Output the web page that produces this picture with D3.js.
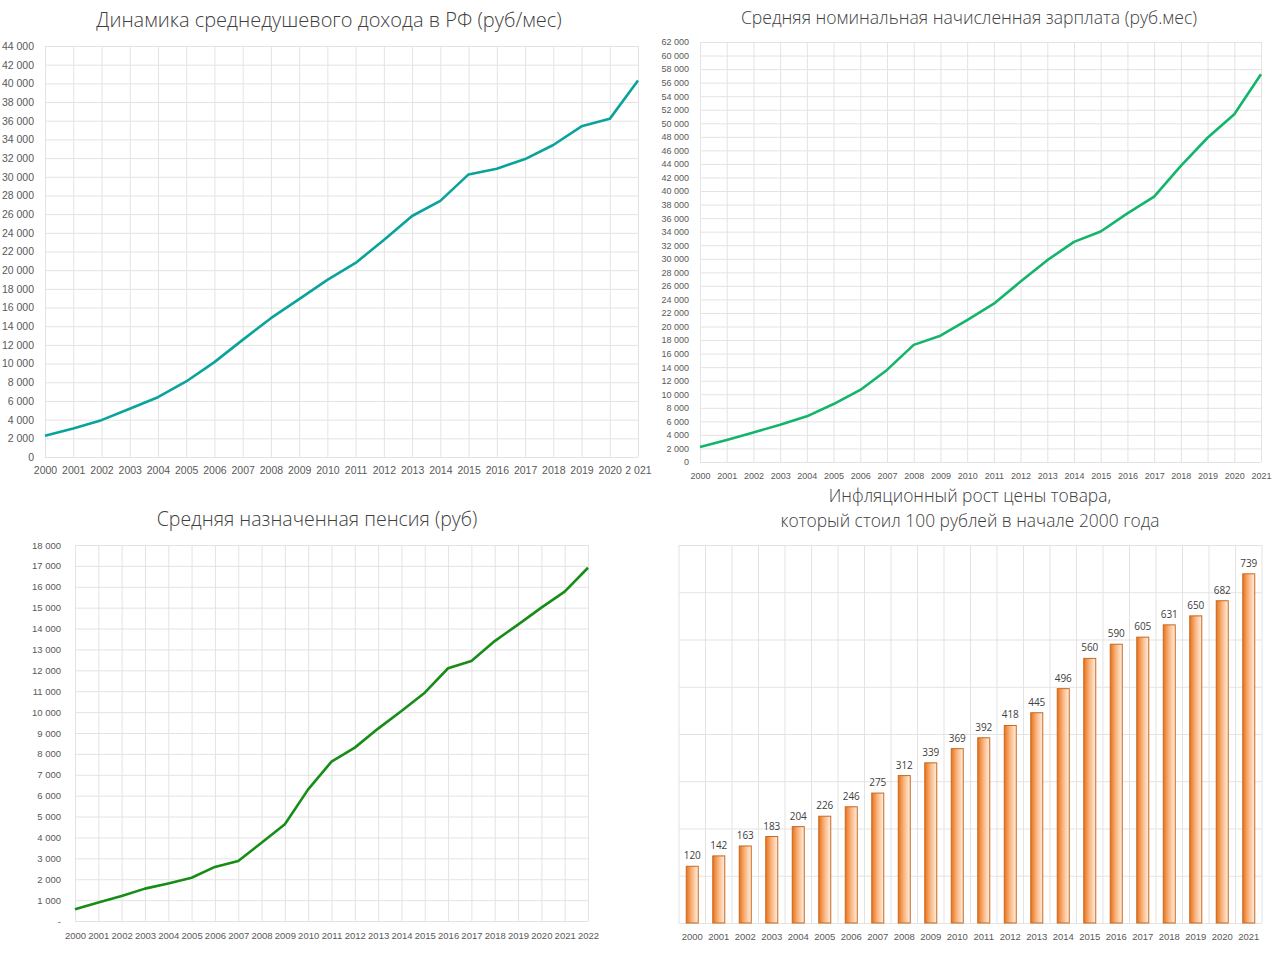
<!DOCTYPE html>
<html lang="ru">
<head>
<meta charset="UTF-8">
<title>Доходы, зарплаты, пенсии и инфляция</title>
<style>
    body, html { margin: 0; padding: 0; background: #fff; }
    svg { display: block; font-family: "Open Sans", "Noto Sans", sans-serif; }
    .title { fill: #404040; font-weight: 300; text-anchor: middle; }
    .tick text { fill: #595959; }
    .grid line { stroke: #e3e3e3; stroke-width: 1; }
    .domain { display: none; }
    .vlabel { fill: #404040; font-size: 10px; text-anchor: middle; }
</style>
</head>
<body>
<script src="https://d3js.org/d3.v7.min.js"></script>
<script>
// Years
const years21 = d3.range(2000, 2022);
const years22 = d3.range(2000, 2023);
const incomeLabels = years21.map(y => y === 2021 ? "2 021" : String(y));

// Среднедушевой доход (руб/мес)
const income = [2281, 3062, 3947, 5167, 6399, 8088, 10155, 12540, 14864, 16895, 18958,
                20780, 23221, 25800, 27420, 30254, 30865, 31897, 33400, 35400, 36200, 40300];

// Средняя номинальная начисленная зарплата (руб/мес)
const wages = [2223, 3240, 4360, 5498, 6740, 8555, 10634, 13593, 17290, 18638, 20952,
               23369, 26629, 29792, 32495, 34030, 36709, 39167, 43724, 47867, 51344, 57244];

// Средняя назначенная пенсия (руб)
const pension = [560, 880, 1200, 1550, 1800, 2070, 2590, 2870, 3750, 4630, 6300, 7630,
                 8300, 9210, 10050, 10930, 12100, 12450, 13400, 14190, 15000, 15770, 16910];

// Цена товара, стоившего 100 руб. в начале 2000 года
const inflation = [120, 142, 163, 183, 204, 226, 246, 275, 312, 339, 369, 392, 418, 445,
                   496, 560, 590, 605, 631, 650, 682, 739];

const ru = d3.formatLocale({decimal: ",", thousands: "\u00a0", grouping: [3], currency: ["", ""]});
const fmt = ru.format(",");

const svg = d3.select("body").append("svg")
    .attr("width", 1280).attr("height", 958);

const defs = svg.append("defs");
const grad = defs.append("linearGradient").attr("id", "barGrad")
    .attr("x1", "0%").attr("x2", "100%").attr("y1", "0%").attr("y2", "0%");
grad.append("stop").attr("offset", "0%").attr("stop-color", "#e8711c");
grad.append("stop").attr("offset", "45%").attr("stop-color", "#f9b27a");
grad.append("stop").attr("offset", "100%").attr("stop-color", "#fff0e4");

function title(lines, x, y, size, lh) {
    const t = svg.append("text").attr("class", "title")
        .attr("x", x).attr("y", y).style("font-size", size + "px");
    lines.forEach((l, i) => t.append("tspan").attr("x", x).attr("dy", i ? lh : 0).text(l));
}

// line chart with Excel-like grid
function lineChart(o) {
    const g = svg.append("g");
    const x = d3.scalePoint().domain(o.labels).range([o.left, o.right]);
    const y = d3.scaleLinear().domain([0, o.yMax]).range([o.bottom, o.top]);

    g.append("g").attr("class", "grid")
        .attr("transform", `translate(${o.left},0)`)
        .call(d3.axisLeft(y).tickValues(d3.range(0, o.yMax + 1, o.step))
            .tickSize(-(o.right - o.left)).tickPadding(o.left - o.labelEnd)
            .tickFormat(d => d === 0 ? o.zero : fmt(d)))
        .call(s => s.selectAll("text").style("font-size", o.fs + "px"));

    g.append("g").attr("class", "grid")
        .attr("transform", `translate(0,${o.top})`)
        .call(d3.axisBottom(x).tickSize(o.bottom - o.top).tickPadding(o.xPad))
        .call(s => s.selectAll("text").style("font-size", o.fs + "px"));

    const line = d3.line().x((d, i) => x(o.labels[i])).y(d => y(d));
    g.append("path").datum(o.values)
        .attr("fill", "none").attr("stroke", o.color)
        .attr("stroke-width", 2.6).attr("stroke-linejoin", "round")
        .attr("d", line);
}

title(["Динамика среднедушевого дохода в РФ (руб/мес)"], 329, 27, 20, 0);
lineChart({labels: incomeLabels, values: income, left: 45, right: 638, top: 46, bottom: 457,
    yMax: 44000, step: 2000, color: "#0aa39b", labelEnd: 34, fs: 10.5, xPad: 10, zero: "0"});

title(["Средняя номинальная начисленная зарплата (руб.мес)"], 969, 24, 17.6, 0);
lineChart({labels: years21.map(String), values: wages, left: 700, right: 1261, top: 42, bottom: 462,
    yMax: 62000, step: 2000, color: "#13b56c", labelEnd: 689, fs: 9, xPad: 11, zero: "0"});

title(["Средняя назначенная пенсия (руб)"], 317, 526, 19.5, 0);
lineChart({labels: years22.map(String), values: pension, left: 75, right: 588, top: 545, bottom: 921,
    yMax: 18000, step: 1000, color: "#178c17", labelEnd: 61, fs: 9.5, xPad: 11, zero: "-"});

// bar chart
title(["Инфляционный рост цены товара,", "который стоил 100 рублей в начале 2000 года"], 970, 502, 17.4, 25);
(function () {
    const left = 679, right = 1262, top = 545, bottom = 923;
    const g = svg.append("g");
    const x = d3.scaleBand().domain(years21.map(String)).range([left, right]);
    const y = d3.scaleLinear().domain([0, 800]).range([bottom, top]);

    g.append("g").attr("class", "grid")
        .attr("transform", `translate(${left},0)`)
        .call(d3.axisLeft(y).tickValues(d3.range(0, 801, 100))
            .tickSize(-(right - left)).tickFormat(""));

    g.append("g").attr("class", "grid")
        .selectAll("line").data(d3.range(0, years21.length + 1)).join("line")
        .attr("x1", i => left + i * x.step()).attr("x2", i => left + i * x.step())
        .attr("y1", top).attr("y2", bottom);

    g.append("g").attr("transform", `translate(0,${bottom})`)
        .call(d3.axisBottom(x).tickSize(0).tickPadding(10))
        .call(s => s.selectAll("text").style("font-size", "9.5px"));

    const bw = 12;
    g.selectAll("rect.bar").data(inflation).join("rect")
        .attr("class", "bar")
        .attr("x", (d, i) => x(String(years21[i])) + x.bandwidth() / 2 - bw / 2)
        .attr("width", bw)
        .attr("y", d => y(d))
        .attr("height", d => bottom - y(d))
        .attr("fill", "url(#barGrad)")
        .attr("stroke", "#c8691e").attr("stroke-width", 1);

    g.selectAll("text.vlabel").data(inflation).join("text")
        .attr("class", "vlabel")
        .attr("x", (d, i) => x(String(years21[i])) + x.bandwidth() / 2)
        .attr("y", d => y(d) - 7)
        .text(d => d);
})();
</script>
</body>
</html>
